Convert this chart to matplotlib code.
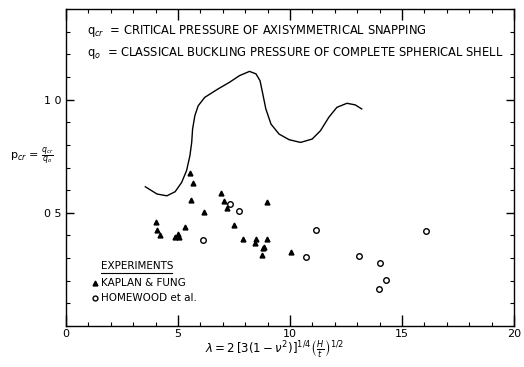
import matplotlib
matplotlib.use("Agg")
import matplotlib.pyplot as plt
from matplotlib.ticker import MultipleLocator, FixedLocator, FixedFormatter

# theory curve (axisymmetrical snapping)
curve_x = [3.54, 4.06, 4.50, 4.87, 5.16, 5.38, 5.53, 5.61, 5.65, 5.75, 5.90, 6.19,
           6.78, 7.30, 7.74, 8.19, 8.48, 8.66, 8.77, 8.92, 9.15, 9.51, 9.96, 10.47,
           10.99, 11.36, 11.73, 12.09, 12.54, 12.91, 13.2]
curve_y = [0.615, 0.583, 0.575, 0.593, 0.634, 0.686, 0.752, 0.811, 0.870, 0.929,
           0.973, 1.010, 1.047, 1.077, 1.106, 1.125, 1.114, 1.084, 1.032, 0.959,
           0.892, 0.848, 0.823, 0.811, 0.826, 0.863, 0.922, 0.966, 0.984, 0.977, 0.959]

# Kaplan & Fung experiments
kf_x = [5.53, 5.67, 5.6, 6.15, 6.9, 7.05, 7.2, 8.99, 4.03, 4.05, 4.2, 4.87, 5.0,
        5.05, 5.3, 7.5, 7.9, 8.48, 8.45, 8.96, 8.8, 8.85, 8.76, 10.05]
kf_y = [0.677, 0.633, 0.558, 0.504, 0.589, 0.553, 0.522, 0.549, 0.46, 0.425, 0.40,
        0.394, 0.407, 0.395, 0.438, 0.447, 0.385, 0.385, 0.367, 0.385, 0.345, 0.35,
        0.314, 0.327]

# Homewood et al. experiments
hw_x = [6.1, 7.3, 7.7, 11.15, 16.06, 10.7, 13.1, 14.03, 14.3, 13.98]
hw_y = [0.38, 0.54, 0.509, 0.425, 0.42, 0.305, 0.31, 0.279, 0.204, 0.164]

xtick_vals = [0, 5, 10, 15, 20]
xtick_labels = ["0", "5", "10", "15", "20"]
ytick_vals = [0.5, 1.0]
ytick_labels = ["0 5", "1 0"]

fig = plt.figure(figsize=(5.24, 3.67), dpi=100)
ax = fig.add_axes([0.126, 0.112, 0.855, 0.863])

ax.plot(curve_x, curve_y, color="black", lw=1.0)
ax.plot(kf_x, kf_y, linestyle="none", marker="^", ms=3.5, color="black")
ax.plot(hw_x, hw_y, linestyle="none", marker="o", ms=4, mfc="white",
        mec="black", mew=1.0)

ax.set_xlim(0, 20)
ax.set_ylim(0, 1.4)
ax.xaxis.set_major_locator(FixedLocator(xtick_vals))
ax.xaxis.set_major_formatter(FixedFormatter(xtick_labels))
ax.xaxis.set_minor_locator(MultipleLocator(1))
ax.yaxis.set_major_locator(FixedLocator(ytick_vals))
ax.yaxis.set_major_formatter(FixedFormatter(ytick_labels))
ax.yaxis.set_minor_locator(MultipleLocator(0.1))
ax.tick_params(which="both", direction="in", top=True, right=True, labelsize=8)
ax.tick_params(which="major", length=6, width=1)
ax.tick_params(which="minor", length=3, width=0.8)
ax.tick_params(axis="x", which="major", length=8, pad=2)
for s in ax.spines.values():
    s.set_linewidth(1.0)

ax.text(0.93, 1.305, r"q$_{cr}$  = CRITICAL PRESSURE OF AXISYMMETRICAL SNAPPING",
        fontsize=8.3, va="center")
ax.text(0.93, 1.208, r"q$_o$  = CLASSICAL BUCKLING PRESSURE OF COMPLETE SPHERICAL SHELL",
        fontsize=8.3, va="center")

ax.text(1.55, 0.265, "EXPERIMENTS", fontsize=7.5, va="center")
ax.plot([1.55, 4.75], [0.235, 0.235], color="black", lw=0.8)
ax.plot([1.3], [0.19], marker="^", ms=3.5, color="black", linestyle="none")
ax.text(1.55, 0.19, "KAPLAN & FUNG", fontsize=7.5, va="center")
ax.plot([1.3], [0.124], marker="o", ms=3.5, mfc="white", mec="black",
        linestyle="none")
ax.text(1.55, 0.124, "HOMEWOOD et al.", fontsize=7.5, va="center")

fig.text(0.02, 0.575, r"p$_{cr}$ = $\frac{q_{cr}}{q_o}$", fontsize=8, va="center")
fig.text(0.525, 0.05, r"$\lambda = 2\,[3(1-\nu^2)]^{1/4}\left(\frac{H}{t}\right)^{1/2}$",
         fontsize=8.5, ha="center", va="center")

fig.savefig("out.png", dpi=100)
